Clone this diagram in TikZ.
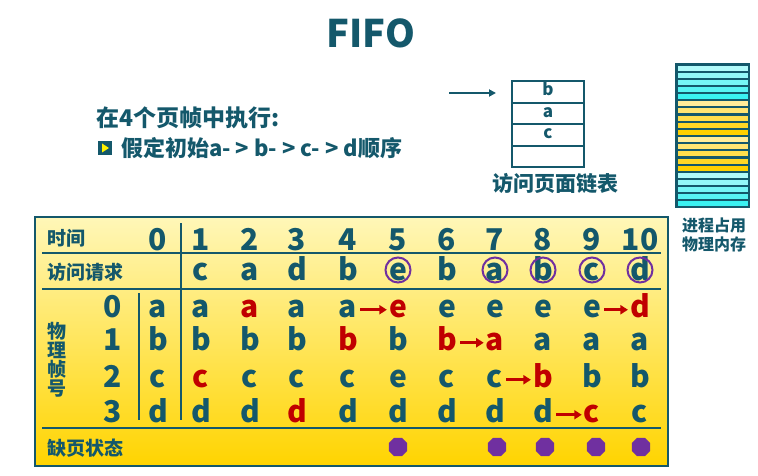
\documentclass[tikz,border=0pt]{standalone}
\usepackage{fontspec}
\setmainfont{Noto Sans CJK SC}
\usetikzlibrary{arrows.meta,shapes.geometric}
\definecolor{teal1}{HTML}{14586B}
\definecolor{redc}{HTML}{C00000}
\definecolor{purp}{HTML}{7030A0}
\definecolor{cyanb}{HTML}{3AF2F2}
\definecolor{yelb}{HTML}{FFD000}
\definecolor{tabtop}{HTML}{FFF7B8}
\definecolor{tabbot}{HTML}{FFD400}
\tikzset{
  big/.style={font=\fontsize{30}{30}\selectfont\bfseries, inner sep=0pt, anchor=base, text height=14.5pt, text depth=0pt},
  lab/.style={font=\fontsize{19}{19}\selectfont\bfseries, text=teal1, inner sep=0pt, anchor=west},
  rule/.style={draw=teal1, line width=2pt},
  redarr/.style={draw=redc, line width=3pt, -{Triangle[length=7.5pt,width=9pt]}, shorten <=3pt, shorten >=2pt},
  ring/.style={circle, draw=purp, line width=2pt, minimum size=25pt, inner sep=0pt},
  miss/.style={regular polygon, regular polygon sides=8, fill=purp, minimum size=20pt, inner sep=0pt},
  cell/.style={draw=teal1, line width=2pt, minimum width=72pt, minimum height=21.5pt, inner sep=0pt,
    font=\fontsize{17}{17}\selectfont\bfseries, text=teal1, text height=8pt, text depth=0pt},
}
\begin{document}
\begin{tikzpicture}[x=1pt,y=-1pt]
\useasboundingbox (0,0) rectangle (758,476);
% title
\node[font=\fontsize{38}{38}\selectfont\bfseries, text=teal1, inner sep=0pt] (title) at (371,33) {FIFO};
% text lines
\node[font=\fontsize{23}{23}\selectfont\bfseries, text=teal1, inner sep=0pt, anchor=west] (line1) at (96,118) {在4个页帧中执行:};
\node[fill=teal1, minimum size=14pt, inner sep=0pt] (bul) at (105,148) {};
\fill[yellow] (102,143.5) -- (109,148) -- (102,152.5) -- cycle;
\node[font=\fontsize{22}{22}\selectfont\bfseries, text=teal1, inner sep=0pt, anchor=west] (line2) at (121,148) {假定初始a- > b- > c- > d顺序};
% linked list
\node[cell] (l1) at (548,92) {b};
\node[cell] (l2) at (548,113.5) {a};
\node[cell] (l3) at (548,135) {c};
\node[cell] (l4) at (548,156.5) {};
\coordinate (arrs) at (449,93);
\draw[draw=teal1, line width=2pt, -{Triangle[length=7pt,width=7pt]}, shorten >=15pt] (arrs) -- (l1.west |- arrs);
\node[font=\fontsize{21}{21}\selectfont\bfseries, text=teal1, inner sep=0pt] (lltxt) at (555,183) {访问页面链表};
% memory bar
\fill[teal1] (675,63) rectangle (750,208);
\foreach \g/\base in {0/cyanb,1/yelb,2/yelb,3/cyanb}{
  \foreach \k in {0,...,4}{
    \pgfmathsetmacro\yy{64.5+(\g*5+\k)*7.15}
    \pgfmathsetmacro\pc{40+15*\k}
    \fill[\base!\pc!white] (677.5,\yy+1.1) rectangle (747.5,\yy+6.1);
  }
}
\node[font=\fontsize{16}{19}\selectfont\bfseries, text=teal1, inner sep=0pt, align=center] (memtxt) at (714,235) {进程占用\\物理内存};
% table
\shade[top color=tabtop, bottom color=tabbot] (35,217) rectangle (668,466);
\draw[teal1, line width=2.5pt] (35,217) rectangle (668,466);
\draw[rule] (42,253) -- (661,253);
\draw[rule] (42,289) -- (661,289);
\draw[rule] (42,428) -- (661,428);
\draw[rule] (181,223) -- (181,420);
\draw[rule] (139,293) -- (139,420);
% labels
\node[lab] (ltime) at (47,238) {时间};
\node[lab] (lreq) at (47,272) {访问请求};
\node[lab] (lmiss) at (47,448) {缺页状态};
\node[font=\fontsize{19}{19}\selectfont\bfseries, text=teal1, inner sep=0pt, align=center] (lframe) at (57,360) {物\\理\\帧\\号};
% time row
\foreach \c/\x in {0/158,1/201,2/250,3/297,4/348,5/398,6/447,7/495,8/543,9/592,10/640}
  \node[big, text=teal1] (t\c) at (\x,250) {\c};
% frame numbers
\foreach \r/\y in {0/317,1/350,2/387,3/422}
  \node[big, text=teal1] (fn\r) at (113,\y) {\r};
% request row
\foreach \c/\x/\v in {1/201/c,2/250/a,3/297/d,4/348/b,5/398/e,6/447/b,7/495/a,8/543/b,9/592/c,10/640/d}
  \node[big, text=teal1] (q\c) at (\x,280) {\v};
\foreach \c/\x in {5/398,7/495,8/543,9/592,10/640}
  \node[ring] (ring\c) at (\x,270) {};
% frames
\foreach \c/\x/\v/\col in {0/158/a/teal1,1/201/a/teal1,2/250/a/redc,3/297/a/teal1,4/348/a/teal1,5/398/e/redc,6/447/e/teal1,7/495/e/teal1,8/543/e/teal1,9/592/e/teal1,10/640/d/redc}
  \node[big, text=\col] (fa\c) at (\x,317) {\v};
\foreach \c/\x/\v/\col in {0/158/b/teal1,1/201/b/teal1,2/250/b/teal1,3/297/b/teal1,4/348/b/redc,5/398/b/teal1,6/447/b/redc,7/495/a/redc,8/543/a/teal1,9/592/a/teal1,10/640/a/teal1}
  \node[big, text=\col] (fb\c) at (\x,350) {\v};
\foreach \c/\x/\v/\col in {0/158/c/teal1,1/201/c/redc,2/250/c/teal1,3/297/c/teal1,4/348/c/teal1,5/398/e/teal1,6/447/c/teal1,7/495/c/teal1,8/543/b/redc,9/592/b/teal1,10/640/b/teal1}
  \node[big, text=\col] (fc\c) at (\x,387) {\v};
\foreach \c/\x/\v/\col in {0/158/d/teal1,1/201/d/teal1,2/250/d/teal1,3/297/d/redc,4/348/d/teal1,5/398/d/teal1,6/447/d/teal1,7/495/d/teal1,8/543/d/teal1,9/592/c/redc,10/640/c/teal1}
  \node[big, text=\col] (fd\c) at (\x,422) {\v};
% arrows
\draw[redarr] (fa4.east) -- (fa5.west);
\draw[redarr] (fa9.east) -- (fa10.west);
\draw[redarr] (fb6.east) -- (fb7.west);
\draw[redarr] (fc7.east) -- (fc8.west);
\draw[redarr] (fd8.east) -- (fd9.west);
% page faults
\foreach \c/\x in {5/398,7/497,8/545,9/596,10/641}
  \node[miss] (m\c) at (\x,447) {};
\end{tikzpicture}
\end{document}
